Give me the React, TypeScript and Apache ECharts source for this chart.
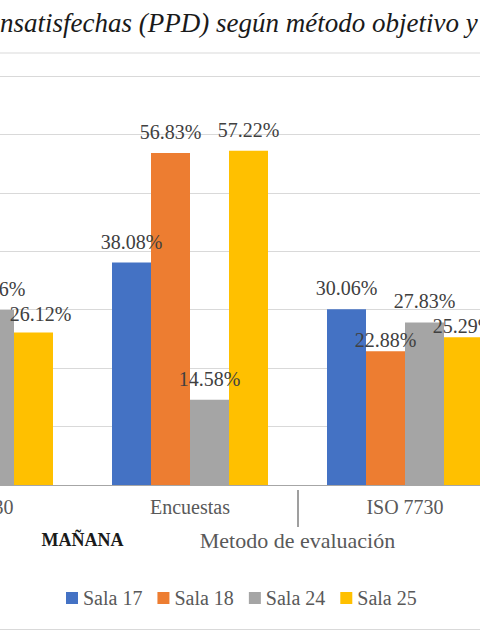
import { useEffect, useRef } from 'react';
import * as echarts from 'echarts';

// category levels (the picture is a crop: the first and last groups run off the edges)
const categories = ['ISO 7730', 'Encuestas', 'ISO 7730', 'Encuestas'];
const periods = ['MAÑANA', 'TARDE'];

const salaNames = ['Sala 17', 'Sala 18', 'Sala 24', 'Sala 25'];
const salaColors = ['#4472C4', '#ED7D31', '#A5A5A5', '#FFC000'];

// PPD (%) per group; null where the bar is outside the crop
const sala17 = [null, 38.08, 30.06, null];
const sala18 = [null, 56.83, 22.88, null];
const sala24 = [29.96, 14.58, 27.83, null];
const sala25 = [26.12, 57.22, 25.29, null];

const titleText = 'nsatisfechas (PPD) según método objetivo y';
const axisTitle = 'Metodo de evaluación';

const serif = 'Liberation Serif';

// the chart is drawn wider than the window and shifted left, like the cropped original
const SHIFT = 260;
const CHART_W = 1120;

// label tweaks where the labels had been nudged to avoid overlaps
const labelTweaks: Record<string, { distance?: number; offset?: number[] }> = {
  '1-2': { distance: 1 },
  '3-2': { distance: 1 },
  '3-0': { distance: 8, offset: [7, 0] },
};

export default function App() {
  const chartRef = useRef<HTMLDivElement>(null);

  useEffect(() => {
    document.body.style.margin = '0';
    if (!chartRef.current) return;
    const chart = echarts.init(chartRef.current, undefined, { renderer: 'svg' });

    const seriesData = [sala17, sala18, sala24, sala25];

    const option: echarts.EChartsOption = {
      animation: false,
      backgroundColor: '#ffffff',
      textStyle: { fontFamily: serif },
      graphic: [
        {
          type: 'text',
          left: SHIFT + 0,
          top: 9,
          style: {
            text: titleText,
            fontFamily: serif,
            fontStyle: 'italic',
            fontSize: 27,
            fill: '#1a1a1a',
          },
        },
        {
          type: 'line',
          shape: { x1: SHIFT, y1: 53, x2: SHIFT + 480, y2: 53 },
          style: { stroke: '#D9D9D9', lineWidth: 1 },
        },
        {
          type: 'line',
          shape: { x1: SHIFT, y1: 629.5, x2: SHIFT + 480, y2: 629.5 },
          style: { stroke: '#D9D9D9', lineWidth: 1 },
        },
      ],
      grid: {
        left: SHIFT - 132.5,
        width: 860,
        top: 76,
        bottom: 155,
      },
      legend: {
        data: salaNames,
        top: 588,
        left: SHIFT + 66,
        padding: 0,
        icon: 'rect',
        itemWidth: 12,
        itemHeight: 12,
        itemGap: 15,
        textStyle: { fontFamily: serif, fontSize: 20, color: '#595959' },
      },
      xAxis: [
        {
          type: 'category',
          data: categories,
          axisTick: { show: false },
          axisLine: { lineStyle: { color: '#A6A6A6', width: 1 } },
          axisLabel: {
            interval: 0,
            margin: 12,
            fontFamily: serif,
            fontSize: 20,
            color: '#595959',
          },
          name: axisTitle,
          nameLocation: 'middle',
          nameGap: 44,
          nameTextStyle: { fontFamily: serif, fontSize: 22, color: '#595959' },
        },
        {
          type: 'category',
          data: periods,
          position: 'bottom',
          offset: 5,
          axisLine: { show: false },
          axisTick: {
            show: true,
            length: 37,
            interval: 0,
            lineStyle: { color: '#7F7F7F', width: 1.5 },
          },
          axisLabel: {
            interval: 0,
            margin: 41,
            fontFamily: serif,
            fontSize: 18,
            fontWeight: 'bold',
            color: '#1a1a1a',
          },
        },
      ],
      yAxis: {
        type: 'value',
        min: 0,
        max: 70,
        interval: 10,
        axisLabel: { show: false },
        axisLine: { show: false },
        axisTick: { show: false },
        splitLine: { lineStyle: { color: '#D9D9D9', width: 1 } },
      },
      series: seriesData.map((values, si) => ({
        name: salaNames[si],
        type: 'bar',
        xAxisIndex: 0,
        barWidth: 39,
        barGap: '0%',
        itemStyle: { color: salaColors[si] },
        label: {
          show: true,
          position: 'top',
          distance: 11,
          fontFamily: serif,
          fontSize: 20,
          color: '#404040',
          formatter: (p: any) => `${Number(p.value).toFixed(2)}%`,
        },
        data: values.map((v, ci) => {
          const tweak = labelTweaks[`${si}-${ci}`];
          if (v == null) return null;
          return tweak ? { value: v, label: tweak } : v;
        }),
      })) as any,
    };

    chart.setOption(option);

    return () => {
      chart.dispose();
    };
  }, []);

  return (
    <div style={{ position: 'relative', width: 480, height: 640, overflow: 'hidden' }}>
      <div
        ref={chartRef}
        style={{ position: 'absolute', left: -SHIFT, top: 0, width: CHART_W, height: 640 }}
      />
    </div>
  );
}
